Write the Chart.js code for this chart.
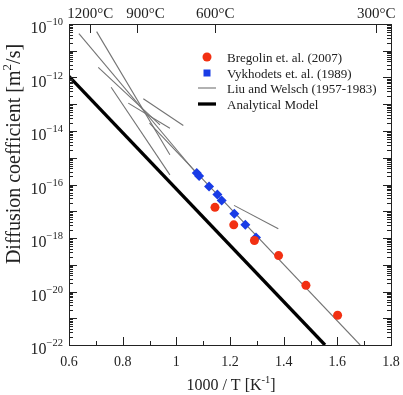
<!DOCTYPE html>
<html>
<head>
<meta charset="utf-8">
<script src="https://cdn.jsdelivr.net/npm/chart.js@4.4.1/dist/chart.umd.min.js"></script>
<style>
html, body { margin: 0; padding: 0; background: #fff; }
</style>
</head>
<body>
<canvas id="myChart" width="403" height="395"></canvas>
<script>
// values (x = 1000/T in 1/K, D in m^2/s)
var bregolinX = [1.144, 1.214, 1.291, 1.381, 1.483, 1.601];
var bregolinD = [1.4e-17, 3.1e-18, 8.1e-19, 2.2e-19, 1.7e-20, 1.3e-21];

var vykhodetsX = [1.076, 1.085, 1.122, 1.153, 1.169, 1.216, 1.257, 1.297];
var vykhodetsD = [2.7e-16, 2.1e-16, 8.5e-17, 4.2e-17, 2.5e-17, 8.1e-18, 3.1e-18, 1.05e-18];

// Liu and Welsch segments: start and end of each line
var liuX1 = [0.637, 0.703, 0.709, 0.757, 0.821, 0.877, 1.215, 0.900];
var liuD1 = [4.4e-11, 5.2e-11, 2.4e-12, 4.3e-13, 1.1e-13, 1.6e-13, 1.66e-17, 1.95e-14];
var liuX2 = [1.070, 0.976, 0.939, 0.976, 0.976, 1.026, 1.380, 1.685];
var liuD2 = [3.0e-16, 1.3e-15, 1.7e-14, 2.3e-16, 1.26e-14, 1.6e-14, 2.2e-18, 1.0e-22];

var modelX = [0.6, 1.554];
var modelD = [1.1e-12, 1.0e-22];

var xTicks = [0.6, 0.8, 1, 1.2, 1.4, 1.6, 1.8];
var yExponents = [-22, -20, -18, -16, -14, -12, -10];
var tempC = [1200, 900, 600, 300];
var tempLabels = ['1200°C', '900°C', '600°C', '300°C'];

var legendLabels = ['Bregolin et. al. (2007)', 'Vykhodets et. al. (1989)', 'Liu and Welsch (1957-1983)', 'Analytical Model'];

var RED = 'rgb(242, 48, 18)';
var BLUE = 'rgb(25, 60, 230)';
var GREY = 'rgb(115, 115, 115)';
var FONT = '"Liberation Serif", "Times New Roman", serif';

function pairs(xs, ys) {
    var out = [];
    for (var i = 0; i < xs.length; i++) out.push({ x: xs[i], y: ys[i] });
    return out;
}

var datasets = [];
datasets.push({
    label: legendLabels[0],
    data: pairs(bregolinX, bregolinD),
    showLine: false,
    pointStyle: 'circle',
    pointRadius: 4.5,
    backgroundColor: RED,
    borderWidth: 0,
    order: 0
});
datasets.push({
    label: legendLabels[1],
    data: pairs(vykhodetsX, vykhodetsD),
    showLine: false,
    pointStyle: 'rectRot',
    pointRadius: 5,
    backgroundColor: BLUE,
    borderWidth: 0,
    order: 1
});
for (var i = 0; i < liuX1.length; i++) {
    datasets.push({
        label: legendLabels[2],
        data: [{ x: liuX1[i], y: liuD1[i] }, { x: liuX2[i], y: liuD2[i] }],
        showLine: true,
        borderColor: GREY,
        borderWidth: 1.1,
        pointRadius: 0,
        order: 3
    });
}
datasets.push({
    label: legendLabels[3],
    data: pairs(modelX, modelD),
    showLine: true,
    borderColor: '#000',
    borderWidth: 3.3,
    pointRadius: 0,
    order: 2
});

function drawRich(ctx, parts, x, y, align) {
    var total = 0;
    parts.forEach(function (p) {
        ctx.font = p.size + 'px ' + FONT;
        p.w = ctx.measureText(p.t).width;
        total += p.w;
    });
    var cx = align === 'center' ? x - total / 2 : (align === 'right' ? x - total : x);
    ctx.textAlign = 'left';
    ctx.textBaseline = 'alphabetic';
    parts.forEach(function (p) {
        ctx.font = p.size + 'px ' + FONT;
        ctx.fillText(p.t, cx, y + (p.dy || 0));
        cx += p.w;
    });
}

var framePlugin = {
    id: 'frame',
    afterDraw: function (chart) {
        var ctx = chart.ctx;
        var a = chart.chartArea;
        var xs = chart.scales.x, ys = chart.scales.y;
        ctx.save();
        ctx.strokeStyle = '#222';
        ctx.fillStyle = '#222';
        ctx.lineWidth = 1;
        ctx.strokeRect(Math.round(a.left) + 0.5, Math.round(a.top) + 0.5, Math.round(a.right - a.left), Math.round(a.bottom - a.top));

        ctx.beginPath();
        // bottom ticks, major and minor
        for (var k = 0; k < xTicks.length; k++) {
            var px = Math.round(xs.getPixelForValue(xTicks[k])) + 0.5;
            ctx.moveTo(px, a.bottom); ctx.lineTo(px, a.bottom - 8);
            if (k < xTicks.length - 1) {
                var pm = Math.round(xs.getPixelForValue((xTicks[k] + xTicks[k + 1]) / 2)) + 0.5;
                ctx.moveTo(pm, a.bottom); ctx.lineTo(pm, a.bottom - 4);
            }
        }
        // top temperature ticks
        for (var t = 0; t < tempC.length; t++) {
            var pt = Math.round(xs.getPixelForValue(1000 / (tempC[t] + 273.15))) + 0.5;
            ctx.moveTo(pt, a.top); ctx.lineTo(pt, a.top + 9);
        }
        // log ticks on both sides
        for (var e = -22; e <= -10; e++) {
            for (var m = 1; m <= 9; m++) {
                if (e === -10 && m > 1) break;
                var py = Math.round(ys.getPixelForValue(m * Math.pow(10, e))) + 0.5;
                var len = m === 1 ? 8 : 4;
                ctx.moveTo(a.left, py); ctx.lineTo(a.left + len, py);
                ctx.moveTo(a.right, py); ctx.lineTo(a.right - len, py);
            }
        }
        ctx.stroke();

        // x tick labels
        ctx.font = '14px ' + FONT;
        ctx.textAlign = 'center';
        ctx.textBaseline = 'alphabetic';
        for (var k2 = 0; k2 < xTicks.length; k2++) {
            ctx.fillText(String(xTicks[k2]), xs.getPixelForValue(xTicks[k2]), 366);
        }
        // temperature labels, pushed right when they would collide
        ctx.font = '15px ' + FONT;
        ctx.textAlign = 'left';
        var prevRight = -1e9;
        for (var t2 = 0; t2 < tempC.length; t2++) {
            var w = ctx.measureText(tempLabels[t2]).width;
            var lx = xs.getPixelForValue(1000 / (tempC[t2] + 273.15)) - w / 2;
            if (lx < prevRight + 13) lx = prevRight + 13;
            ctx.fillText(tempLabels[t2], lx, 18);
            prevRight = lx + w;
        }
        // y tick labels 10^n
        for (var j = 0; j < yExponents.length; j++) {
            var yy = ys.getPixelForValue(Math.pow(10, yExponents[j]));
            drawRich(ctx, [
                { t: '10', size: 16 },
                { t: '\u2212' + Math.abs(yExponents[j]), size: 10.5, dy: -8 }
            ], 63, yy + 9, 'right');
        }
        // axis titles
        drawRich(ctx, [
            { t: '1000 / T [K', size: 16 },
            { t: '-1', size: 10.5, dy: -7 },
            { t: ']', size: 16 }
        ], 231, 390, 'center');

        ctx.save();
        ctx.translate(19.5, 154);
        ctx.rotate(-Math.PI / 2);
        drawRich(ctx, [
            { t: 'Diffusion coefficient [m', size: 20 },
            { t: '2', size: 13, dy: -9 },
            { t: '/s]', size: 20 }
        ], 0, 0, 'center');
        ctx.restore();

        // legend
        var rows = [57, 73, 88, 104];
        ctx.font = '13px ' + FONT;
        ctx.textAlign = 'left';
        for (var r = 0; r < rows.length; r++) {
            var ly = rows[r];
            if (r === 0) {
                ctx.fillStyle = RED;
                ctx.beginPath(); ctx.arc(207, ly, 4.5, 0, Math.PI * 2); ctx.fill();
            } else if (r === 1) {
                ctx.fillStyle = BLUE;
                ctx.fillRect(203.5, ly - 3.5, 7, 7);
            } else {
                ctx.strokeStyle = r === 2 ? GREY : '#000';
                ctx.lineWidth = r === 2 ? 1.1 : 3.3;
                ctx.beginPath(); ctx.moveTo(198, ly); ctx.lineTo(216, ly); ctx.stroke();
            }
            ctx.fillStyle = '#222';
            ctx.fillText(legendLabels[r], 227, ly + 4.5);
        }
        ctx.restore();
    }
};

var ctx = document.getElementById('myChart');
var myChart = new Chart(ctx, {
    type: 'scatter',
    data: { datasets: datasets },
    options: {
        responsive: false,
        animation: false,
        layout: { padding: { left: 69, top: 24, right: 12, bottom: 50 } },
        plugins: { legend: { display: false }, tooltip: { enabled: false } },
        scales: {
            x: { type: 'linear', min: 0.6, max: 1.8, display: false },
            y: { type: 'logarithmic', min: 1e-22, max: 1e-10, display: false }
        }
    },
    plugins: [framePlugin]
});
</script>
</body>
</html>
